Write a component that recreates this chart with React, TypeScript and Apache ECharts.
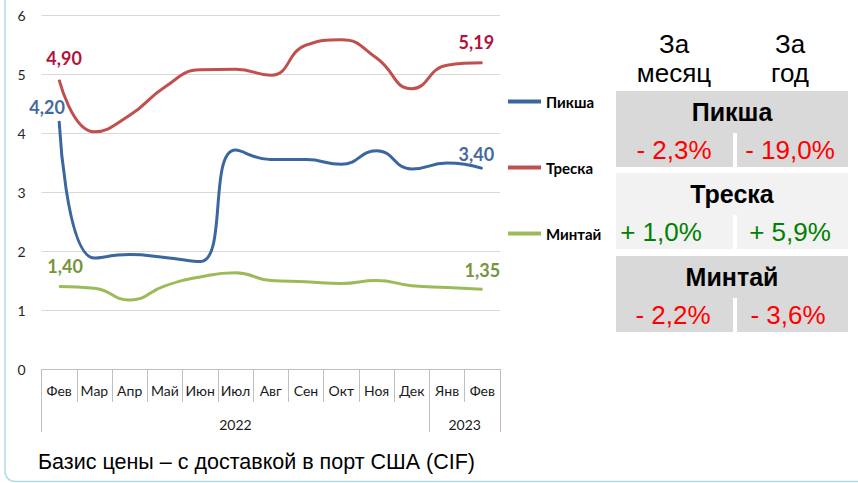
import React, { useEffect, useRef } from 'react';
import * as echarts from 'echarts';

const months = ['Фев', 'Мар', 'Апр', 'Май', 'Июн', 'Июл', 'Авг', 'Сен', 'Окт', 'Ноя', 'Дек', 'Янв', 'Фев'];
const years = ['2022', '2023'];
const yearMonthCounts = [11, 2];
const haddock = [4.2, 1.88, 1.94, 1.89, 1.82, 3.71, 3.55, 3.55, 3.47, 3.7, 3.39, 3.49, 3.4];
const cod = [4.9, 4.02, 4.3, 4.78, 5.07, 5.08, 4.98, 5.49, 5.58, 5.27, 4.75, 5.15, 5.19];
const pollock = [1.4, 1.37, 1.17, 1.41, 1.56, 1.63, 1.5, 1.48, 1.45, 1.5, 1.41, 1.38, 1.35];
const seriesNames = ['Пикша', 'Треска', 'Минтай'];
const monthChange = ['- 2,3%', '+ 1,0%', '- 2,2%'];
const yearChange = ['- 19,0%', '+ 5,9%', '- 3,6%'];
const changeHeaders = [['За', 'месяц'], ['За', 'год']];
const caption = 'Базис цены – с доставкой в порт США (CIF)';

const lineColors = ['#3b66a0', '#c0504d', '#9bbb59'];
const labelColors = ['#44699e', '#b3123c', '#77933c'];
const firstOffsets = [[-12, 0], [5, -7], [6, -6]];
const lastOffsets = [[-6, 0], [-6, -6], [0, -5]];

const fmt = (v: number) => v.toFixed(2).replace('.', ',');

function buildData(values: number[], idx: number) {
  const last = values.length - 1;
  return values.map((v, i) => {
    if (i === 0 || i === last) {
      return {
        value: v,
        label: {
          show: true,
          position: 'top',
          offset: i === 0 ? firstOffsets[idx] : lastOffsets[idx],
          formatter: (p: any) => fmt(p.value),
          color: labelColors[idx],
          fontFamily: 'Lato',
          fontWeight: 'bold',
          fontSize: 18,
        },
      };
    }
    return v;
  });
}

export default function App() {
  const ref = useRef<HTMLDivElement>(null);
  useEffect(() => {
    if (!ref.current) return;
    const chart = echarts.init(ref.current, undefined, { renderer: 'svg' });
    const allSeries = [haddock, cod, pollock];

    const yearBounds: number[] = [0];
    yearMonthCounts.forEach((c) => yearBounds.push(yearBounds[yearBounds.length - 1] + c));
    const yearCenters = yearMonthCounts.map((c, i) => yearBounds[i] + c / 2);

    const sansFont = '"Liberation Sans", Arial, sans-serif';
    const tableX = 616;
    const tableW = 232;
    const rowTops = [91, 173, 256];
    const headH = 42;
    const cellH = 34;
    const rowFills = ['#d9d9d9', '#f2f2f2', '#d9d9d9'];
    const leftCenters = [674, 661, 673];
    const rightCenters = [790, 790, 788];
    const gapX = 733;

    const txt = (text: string, x: number, y: number, font: string, fill: string, align = 'center') => ({
      type: 'text',
      x,
      y,
      style: {
        text,
        font,
        fill,
        textAlign: align,
        align,
        textVerticalAlign: 'middle',
        verticalAlign: 'middle',
      },
    });

    const graphics: any[] = [
      {
        type: 'rect',
        z: -10,
        shape: { x: 5, y: -30, width: 900, height: 511.5, r: 10 },
        style: { fill: 'none', stroke: '#b0dbe9', lineWidth: 1.5 },
      },
      txt(caption, 38, 462, '21.5px ' + sansFont, '#000', 'left'),
    ];
    changeHeaders.forEach((h, i) => {
      const cx = i === 0 ? 674 : 790;
      graphics.push(txt(h[0], cx, 44, '26px ' + sansFont, '#000'));
      graphics.push(txt(h[1], cx, 73, '26px ' + sansFont, '#000'));
    });
    seriesNames.forEach((name, i) => {
      const top = rowTops[i];
      graphics.push({
        type: 'rect',
        shape: { x: tableX, y: top, width: tableW, height: headH + cellH },
        style: { fill: rowFills[i] },
      });
      graphics.push({
        type: 'rect',
        shape: { x: gapX, y: top + headH, width: 4, height: cellH },
        style: { fill: '#ffffff' },
      });
      graphics.push(txt(name, tableX + tableW / 2, top + 21, 'bold 25px ' + sansFont, '#000'));
      const col = monthChange[i].startsWith('+') ? '#008000' : '#ff0000';
      const col2 = yearChange[i].startsWith('+') ? '#008000' : '#ff0000';
      graphics.push(txt(monthChange[i], leftCenters[i], top + headH + 17, '26px ' + sansFont, col));
      graphics.push(txt(yearChange[i], rightCenters[i], top + headH + 17, '26px ' + sansFont, col2));
    });

    chart.setOption({
      animation: false,
      backgroundColor: '#ffffff',
      grid: { left: 41.5, right: 358, top: 15, bottom: 114, containLabel: false },
      legend: {
        orient: 'vertical',
        left: 503,
        top: 89,
        itemGap: 51,
        itemWidth: 33,
        itemHeight: 4,
        icon: 'rect',
        data: seriesNames,
        textStyle: { fontFamily: 'Lato', fontWeight: 'bold', fontSize: 15, color: '#000' },
      },
      xAxis: [
        {
          type: 'category',
          data: months,
          boundaryGap: true,
          axisLine: { show: true, lineStyle: { color: '#bfbfbf', width: 1 } },
          axisTick: { show: true, interval: 0, length: 33, lineStyle: { color: '#bfbfbf' } },
          axisLabel: { interval: 0, margin: 14, fontFamily: 'Lato', fontSize: 14, color: '#1a1a1a' },
          splitLine: { show: false },
        },
        {
          type: 'value',
          position: 'bottom',
          offset: 33,
          min: 0,
          max: yearBounds[yearBounds.length - 1],
          axisLine: { show: false },
          splitLine: { show: false },
          axisTick: { show: true, length: 30, customValues: yearBounds, lineStyle: { color: '#bfbfbf' } },
          axisLabel: {
            margin: 15,
            customValues: yearCenters,
            formatter: (v: number) => {
              const i = yearCenters.findIndex((c) => Math.abs(c - v) < 1e-6);
              return i >= 0 ? years[i] : '';
            },
            fontFamily: 'Lato',
            fontSize: 14,
            color: '#1a1a1a',
          },
        },
      ],
      yAxis: {
        type: 'value',
        min: 0,
        max: 6,
        interval: 1,
        axisLine: { show: false },
        axisTick: { show: false },
        axisLabel: { margin: 16, fontFamily: 'Lato', fontSize: 14, color: '#262626' },
        splitLine: { lineStyle: { color: '#d9d9d9', width: 1 } },
      },
      series: allSeries.map((vals, i) => ({
        name: seriesNames[i],
        type: 'line',
        xAxisIndex: 0,
        smooth: true,
        symbol: 'circle',
        symbolSize: 1,
        showSymbol: true,
        showAllSymbol: true,
        color: lineColors[i],
        itemStyle: { color: lineColors[i] },
        lineStyle: { color: lineColors[i], width: 3 },
        label: { show: false },
        emphasis: { disabled: true },
        data: buildData(vals, i),
      })),
      graphic: graphics,
    });
    return () => chart.dispose();
  }, []);
  return (
    <div
      ref={ref}
      style={{ position: 'absolute', left: 0, top: 0, width: 858, height: 483, background: '#fff' }}
    />
  );
}
